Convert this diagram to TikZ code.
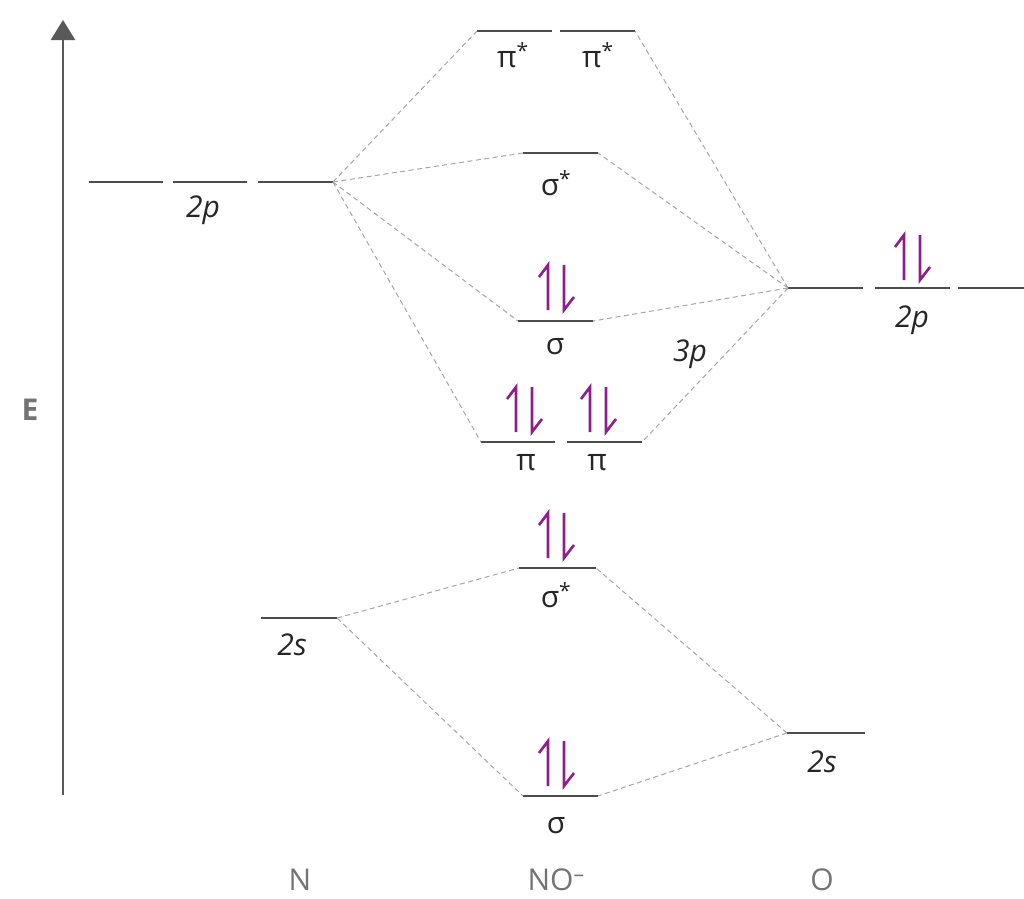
\documentclass[tikz,border=0pt]{standalone}
\usepackage{fontspec}
\setmainfont{Open Sans}
\usetikzlibrary{arrows.meta}
\definecolor{spinpurple}{RGB}{142,30,140}
\begin{document}
\begin{tikzpicture}[x=1pt,y=-1pt,
    level/.style={line width=2.8pt,draw=black!70},
    link/.style={draw=black!35,line width=1pt,dash pattern=on 5pt off 3.5pt},
    spin/.style={draw=spinpurple,line width=2.6pt},
    lbl/.style={text=black!85,font=\fontsize{30}{34}\selectfont,inner sep=0pt},
    atom/.style={text=black!55,font=\fontsize{30}{34}\selectfont,inner sep=0pt}]
    \useasboundingbox (0,0) rectangle (1024,898);

    % energy axis
    \draw[line width=2.6pt,draw=black!65,-{Triangle[length=20pt,width=24pt]}] (63,795) -- (63,20);
    \node[atom,font=\bfseries\fontsize{30}{34}\selectfont] (axisE) at (30,410) {E};

    % atomic levels
    \draw[level] (89,182) -- (163,182);
    \draw[level] (173,182) -- (247,182);
    \draw[level] (258,182) -- (333,182) coordinate (N2p);
    \draw[level] (788,288) coordinate (O2p) -- (863,288);
    \draw[level] (875,288) -- (950,288);
    \draw[level] (958,288) -- (1024,288);
    \draw[level] (261,618) -- (337,618) coordinate (N2s);
    \draw[level] (787,733) coordinate (O2s) -- (865,733);

    % molecular levels
    \draw[level] (477,31) coordinate (pisA) -- (552,31);
    \draw[level] (560,31) -- (635,31) coordinate (pisB);
    \draw[level] (523,153) coordinate (sigsA) -- (598,153) coordinate (sigsB);
    \draw[level] (518,321) coordinate (sigA) -- (593,321) coordinate (sigB);
    \draw[level] (481,442) coordinate (piA) -- (555,442);
    \draw[level] (567,442) -- (642,442) coordinate (piB);
    \draw[level] (519,568) coordinate (ssigsA) -- (596,568) coordinate (ssigsB);
    \draw[level] (523,796) coordinate (ssigA) -- (598,796) coordinate (ssigB);

    % correlation lines
    \foreach \t in {pisA,sigsA,sigA,piA} \draw[link] (N2p) -- (\t);
    \foreach \t in {pisB,sigsB,sigB,piB} \draw[link] (O2p) -- (\t);
    \foreach \t in {ssigsA,ssigA} \draw[link] (N2s) -- (\t);
    \foreach \t in {ssigsB,ssigB} \draw[link] (O2s) -- (\t);

    % electron pairs: centre / bottom
    \foreach \c/\b in {556/310,524/432,598/432,556/558,556/786,912/280}{
        \draw[spin] (\c-8,\b) -- ++(0,-45) -- ++(-9,12);
        \draw[spin] (\c+8,\b-45) -- ++(0,45) -- ++(10,-13);
    }

    % labels
    \node[lbl] (lbNp) at (203,210) {\textit{2p}};
    \node[lbl] (lbOp) at (912,320) {\textit{2p}};
    \node[lbl] (lbNs) at (292,645) {\textit{2s}};
    \node[lbl] (lbOs) at (822,762) {\textit{2s}};
    \node[lbl] (lb3p) at (690,354) {\textit{3p}};
    \node[lbl] (lbpisA) at (513,55) {π\textsuperscript{*}};
    \node[lbl] (lbpisB) at (598,55) {π\textsuperscript{*}};
    \node[lbl] (lbsigs) at (556,183) {σ\textsuperscript{*}};
    \node[lbl] (lbsig) at (555,347) {σ};
    \node[lbl] (lbpiA) at (526,463) {π};
    \node[lbl] (lbpiB) at (597,463) {π};
    \node[lbl] (lbssigs) at (556,595) {σ\textsuperscript{*}};
    \node[lbl] (lbssig) at (556,826) {σ};

    \node[atom] (atN) at (300,880) {N};
    \node[atom] (atNO) at (556,880) {NO\textsuperscript{--}};
    \node[atom] (atO) at (822,880) {O};
\end{tikzpicture}
\end{document}
